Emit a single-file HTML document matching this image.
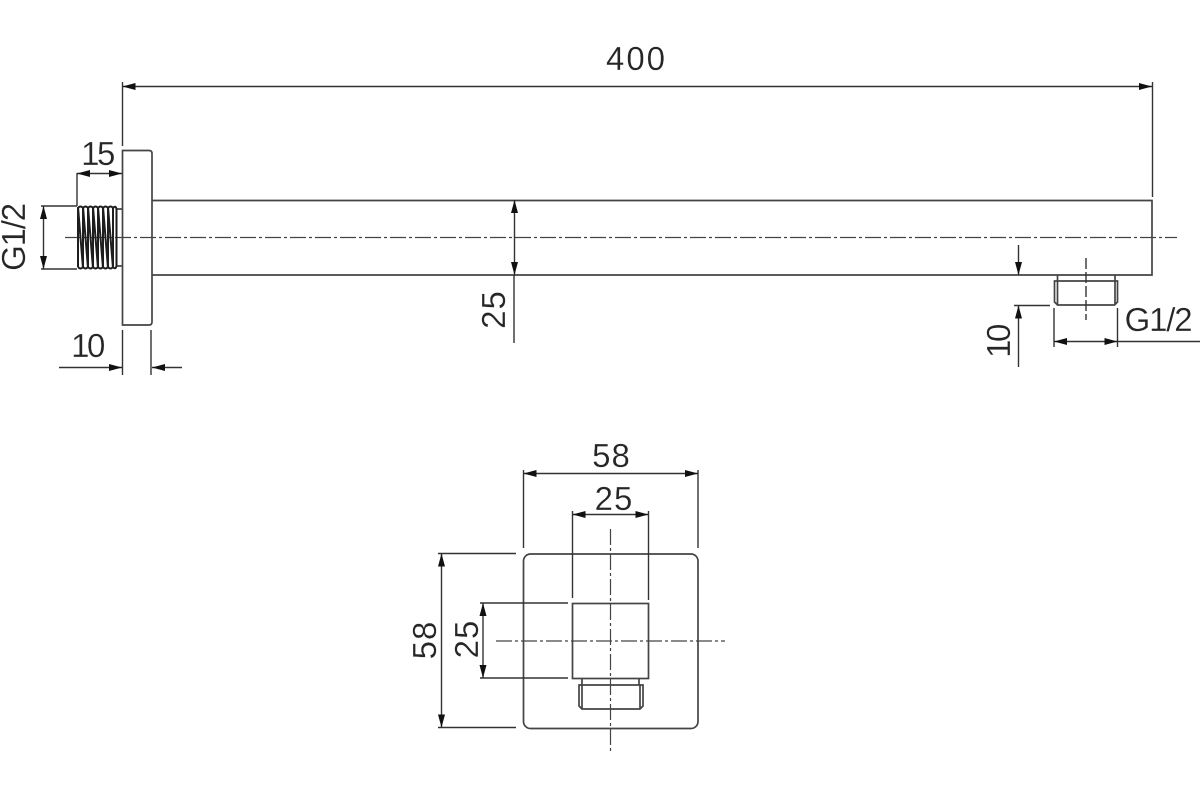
<!DOCTYPE html>
<html><head><meta charset="utf-8"><style>
html,body{margin:0;padding:0;background:#fff}
svg{display:block}
text{font-family:"Liberation Sans",sans-serif;font-size:33px;fill:#262626;stroke:#fff;stroke-width:.2}
.g{letter-spacing:-1.2px}
.w{letter-spacing:1px}
.n{letter-spacing:-2.5px}
.o{fill:none;stroke:#444;stroke-width:1.7}
.d{fill:none;stroke:#333;stroke-width:1.4}
.c{fill:none;stroke:#444;stroke-width:1.2;stroke-dasharray:16 3 3 3}
</style></head><body>
<svg width="1200" height="800" viewBox="0 0 1200 800" xmlns="http://www.w3.org/2000/svg">
<defs>
<marker id="m" viewBox="0 0 13 7" refX="13" refY="3.500" markerWidth="13" markerHeight="7" markerUnits="userSpaceOnUse" orient="auto-start-reverse"><path d="M0 0L13 3.500L0 7z" fill="#111"/></marker>
</defs>

<!-- Side view -->
<path class="o" d="M122.500 150.500H149q3 0 3 3V322q0 3-3 3H122.500z"/>
<path class="o" d="M152 200.500H1152V275H152"/>
<path class="o" d="M117 209H122M117 266H122"/>
<path class="c" d="M65 237.500H1177"/>
<g fill="none" stroke="#1e1e1e" stroke-width="2">
<path d="M78 208v59M83 207v61M88 207v61M93 207v61M98 207v61M103 207v61M108 207v61M113 207v61M116.500 209v57"/>
<path d="M78 207l5 61M83 207l5 61M88 207l5 61M93 207l5 61M98 207l5 61M103 207l5 61M108 207l5 61"/>
<path d="M78 208q2.500-3 5 0q2.500-3 5 0q2.500-3 5 0q2.500-3 5 0q2.500-3 5 0q2.500-3 5 0q2.500-3 5 0q2.500-3 3.500 1"/>
<path d="M78 267q2.500 3 5 0q2.500 3 5 0q2.500 3 5 0q2.500 3 5 0q2.500 3 5 0q2.500 3 5 0q2.500 3 5 0q2.500 3 3.500-1"/>
</g>
<path class="d" d="M122.500 82V146M122.500 330V375M151 330V375M77 173V206M41 206H77M41 269H77"/>
<path class="d" d="M122.500 86.500H1152" marker-start="url(#m)" marker-end="url(#m)"/>
<path class="d" d="M1152.500 82V197"/>
<path class="d" d="M77 173.500H122" marker-start="url(#m)" marker-end="url(#m)"/>
<path class="d" d="M43.500 206V269" marker-start="url(#m)" marker-end="url(#m)"/>
<path class="d" d="M59 367.500H122" marker-end="url(#m)"/>
<path class="d" d="M182 367.500H152" marker-end="url(#m)"/>
<path class="d" d="M514.500 200V275" marker-start="url(#m)" marker-end="url(#m)"/>
<path class="d" d="M514 275V343"/>
<path class="d" d="M1018.500 245V275" marker-end="url(#m)"/>
<path class="d" d="M1018.500 367V305.500" marker-end="url(#m)"/>
<path class="d" d="M1014 305.500H1050M1054 308V347M1117.500 308V347"/>
<path class="d" d="M1054 341.500H1117.500" marker-start="url(#m)" marker-end="url(#m)"/>
<path class="d" d="M1117.500 341.500H1200"/>
<path class="o" d="M1057.500 275V281M1115 275V281M1054.500 281H1117.500V302l-3 3H1057.500l-3-3zM1057.500 281V305M1115 281V305"/>
<path class="d" d="M1086 258V320" stroke-dasharray="11 3"/>

<!-- Front view -->
<rect class="o" x="523.500" y="554" width="174.500" height="174.500" rx="7"/>
<rect class="o" x="572.500" y="603.500" width="76" height="75"/>
<path class="o" d="M582 678.500V685M639 678.500V685M579 685H643V706l-3 3H582l-3-3zM582 685V709M640 685V709"/>
<path class="c" d="M610.500 529V752M496 641H725"/>
<path class="d" d="M523.500 470V548M698 470V548M572.500 511V598M648.500 511V600M438 553.500H516M438 727.500H516M480 603H568M480 678H568"/>
<path class="d" d="M523.500 473.500H698" marker-start="url(#m)" marker-end="url(#m)"/>
<path class="d" d="M572.500 514.500H648.500" marker-start="url(#m)" marker-end="url(#m)"/>
<path class="d" d="M441.500 553.500V727.500" marker-start="url(#m)" marker-end="url(#m)"/>
<path class="d" d="M483 603V678" marker-start="url(#m)" marker-end="url(#m)"/>

<!-- Labels -->
<text x="636.500" y="70" text-anchor="middle" style="letter-spacing:2px">400</text>
<text x="97" y="165" text-anchor="middle" class="n">15</text>
<text x="87" y="357" text-anchor="middle" class="n">10</text>
<text x="1158" y="331" text-anchor="middle" class="g">G1/2</text>
<text x="611.500" y="467" text-anchor="middle" class="w">58</text>
<text x="614" y="510" text-anchor="middle" class="w">25</text>
<text transform="translate(25 237.500) rotate(-90)" text-anchor="middle" class="g">G1/2</text>
<text transform="translate(505 309.500) rotate(-90)" text-anchor="middle" class="w">25</text>
<text transform="translate(1010 342) rotate(-90)" text-anchor="middle" class="n">10</text>
<text transform="translate(436 640) rotate(-90)" text-anchor="middle" class="w">58</text>
<text transform="translate(478 639) rotate(-90)" text-anchor="middle" class="w">25</text>
</svg>
</body></html>
